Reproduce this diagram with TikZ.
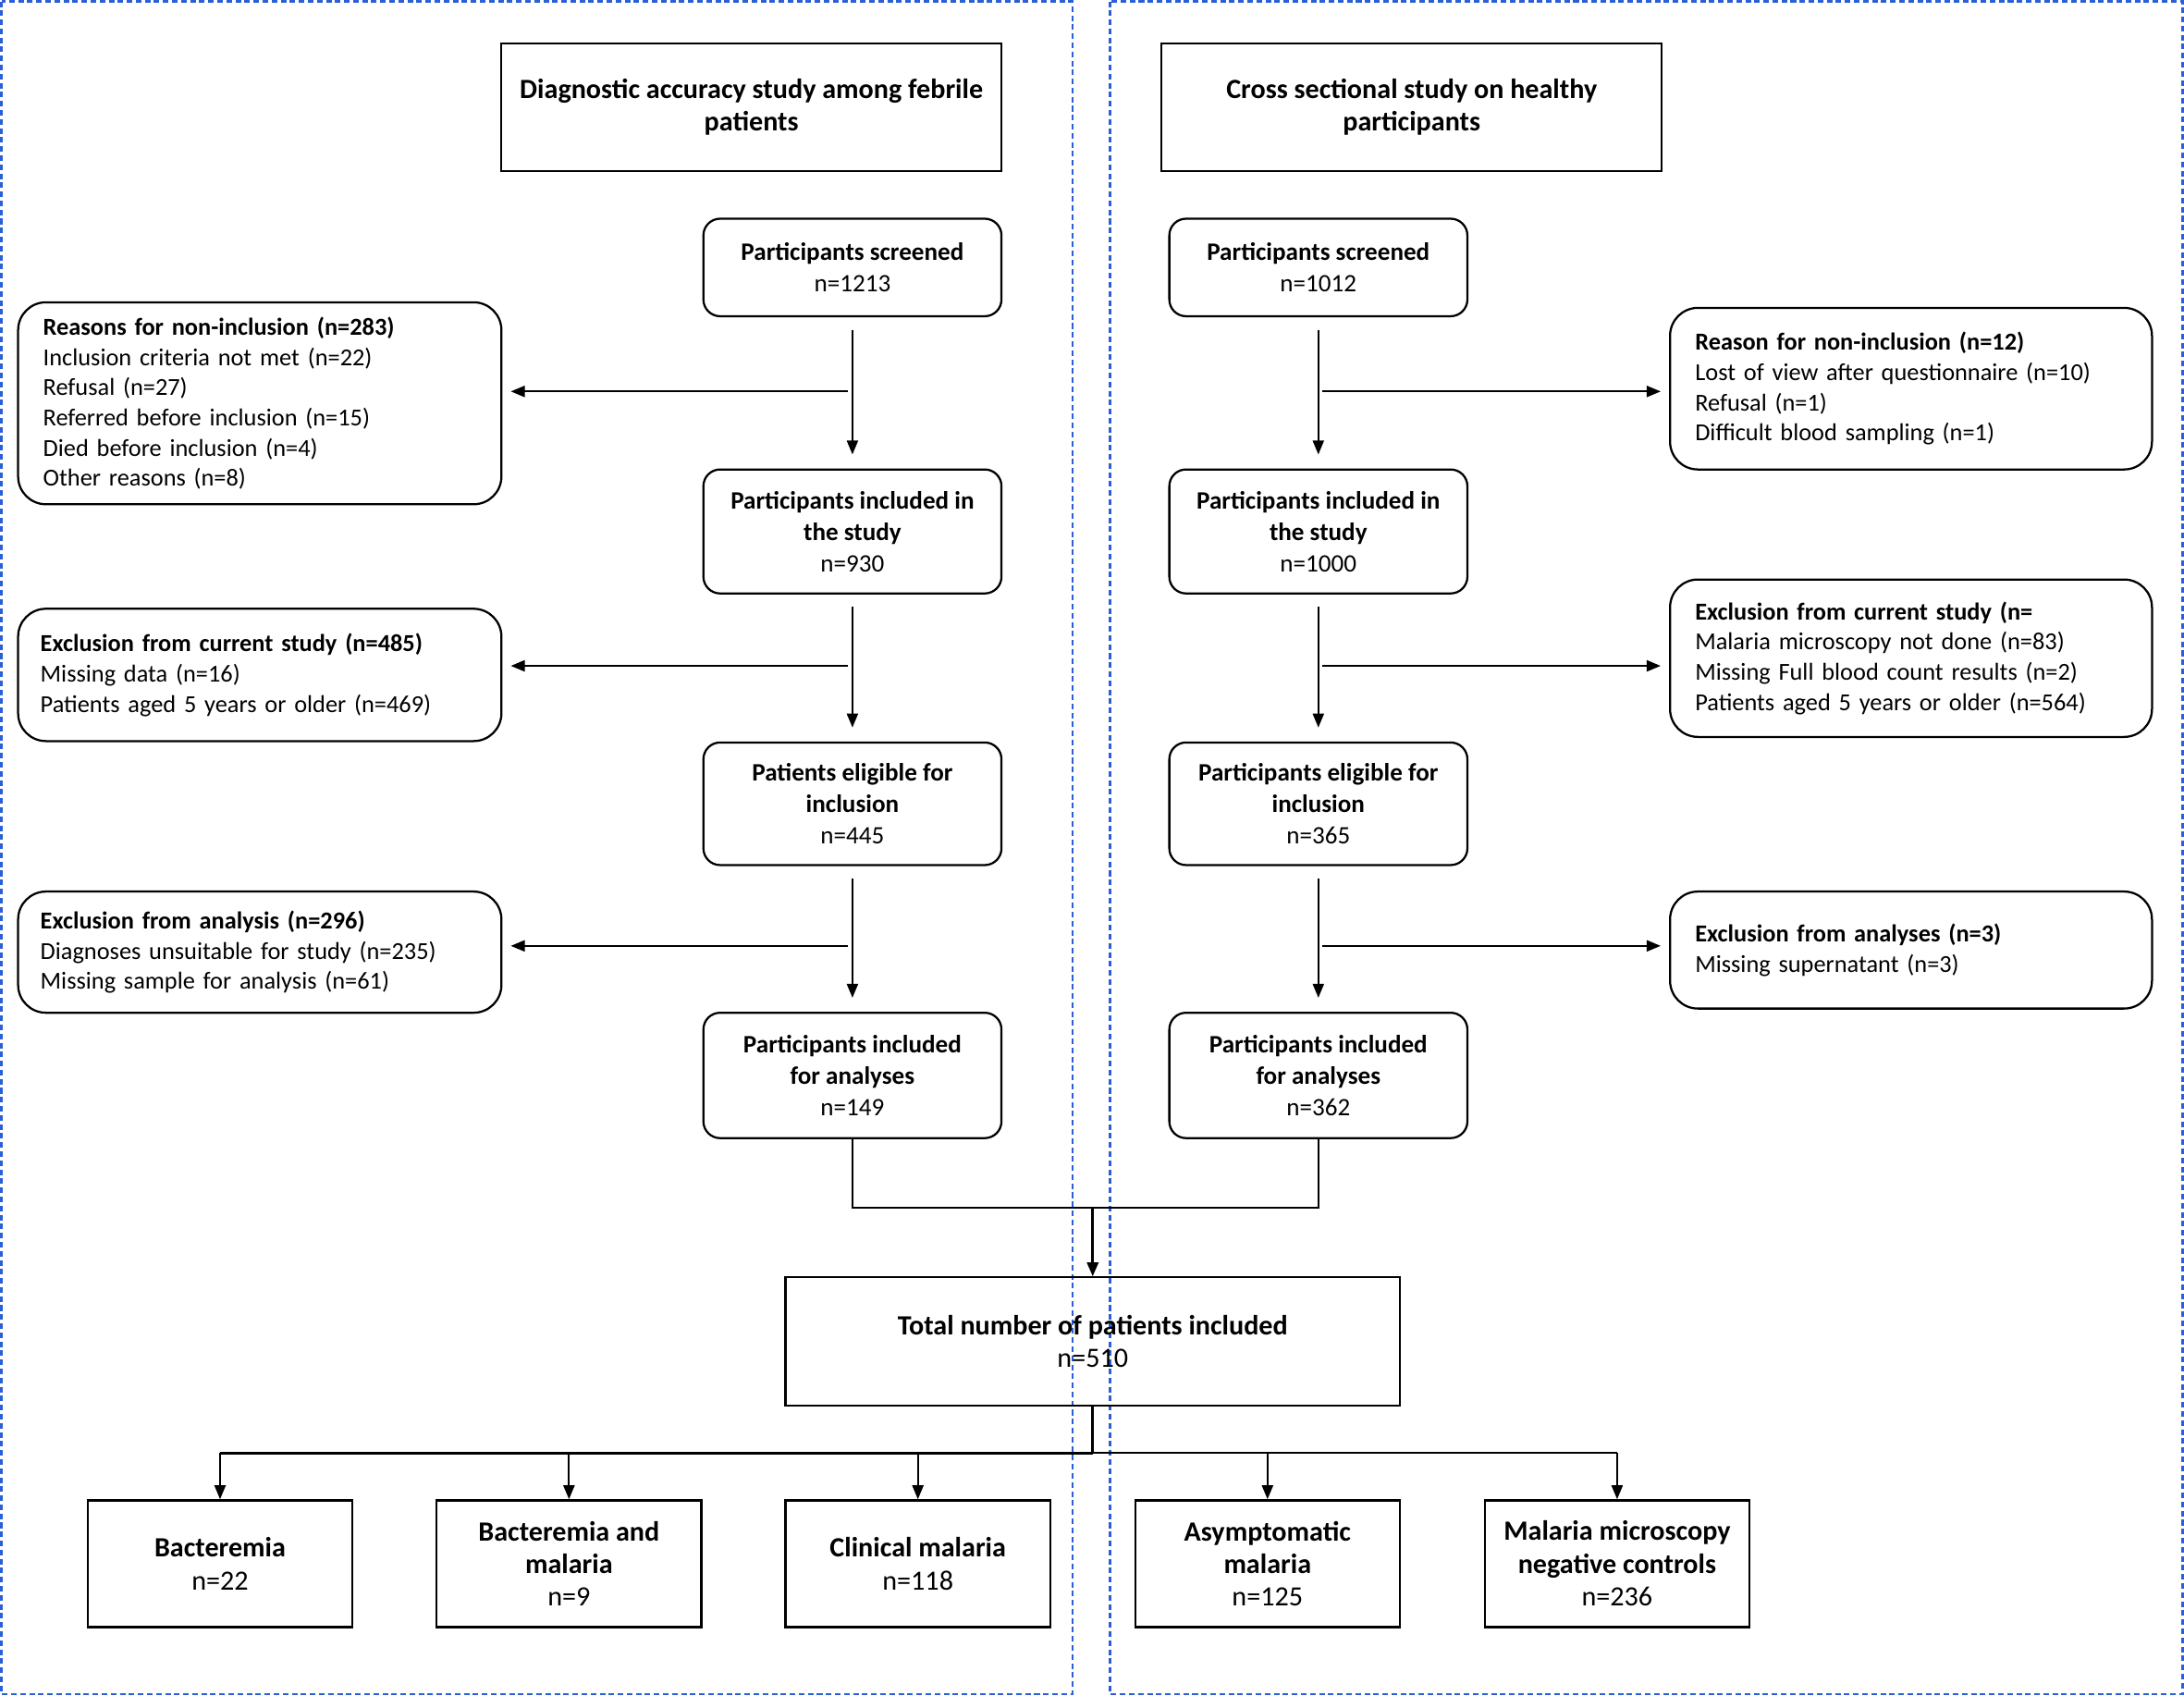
\documentclass[tikz,border=0pt]{standalone}
\usepackage{fontspec}
\setmainfont{Carlito}
\usetikzlibrary{arrows.meta,calc}
\definecolor{panelblue}{HTML}{2A5FD6}
\begin{document}
\begin{tikzpicture}[x=1pt,y=-1pt,
  every node/.style={font=\fontsize{18}{22.5}\selectfont},
  bigtxt/.style={font=\fontsize{20}{23.5}\selectfont},
  sidetxt/.style={font=\fontsize{17.5}{21.7}\selectfont},
  panel/.style={draw=panelblue, line width=1.6pt, dash pattern=on 4pt off 2.5pt},
  sqbox/.style={draw, line width=1.5pt, align=center, inner sep=4pt},
  rbox/.style={draw, line width=1.5pt, rounded corners=12pt, align=center, inner sep=4pt, minimum width=214pt},
  sidebox/.style={draw, line width=1.5pt, rounded corners=20pt, align=left, inner xsep=18pt, inner ysep=4pt, text width=311pt, minimum width=347pt, sidetxt},
  conn/.style={line width=1.3pt},
  arr/.style={conn, -{Triangle[length=10pt,width=8pt]}},
  thick conn/.style={line width=2pt},
]
\useasboundingbox (0,0) rectangle (1568,1217);
% panels
\draw[panel] (1,1) rectangle (770,1216);
\draw[panel] (797,1) rectangle (1567,1216);

% titles
\node[sqbox, bigtxt, minimum width=359pt, minimum height=92pt] (tL) at (539.5,77) {\bfseries Diagnostic accuracy study among febrile\\\bfseries patients};
\node[sqbox, bigtxt, minimum width=359pt, minimum height=92pt] (tR) at (1013.5,77) {\bfseries Cross sectional study on healthy\\\bfseries participants};

% left column
\node[rbox, minimum height=70pt] (sL) at (612,192) {\bfseries Participants screened\\n=1213};
\node[rbox, minimum height=89pt] (iL) at (612,381.5) {\bfseries Participants included in\\\bfseries the study\\n=930};
\node[rbox, minimum height=88pt] (eL) at (612,577) {\bfseries Patients eligible for\\\bfseries inclusion\\n=445};
\node[rbox, minimum height=90pt] (aL) at (612,772) {\bfseries Participants included\\\bfseries for analyses\\n=149};

% right column
\node[rbox, minimum height=70pt] (sR) at (946.5,192) {\bfseries Participants screened\\n=1012};
\node[rbox, minimum height=89pt] (iR) at (946.5,381.5) {\bfseries Participants included in\\\bfseries the study\\n=1000};
\node[rbox, minimum height=88pt] (eR) at (946.5,577) {\bfseries Participants eligible for\\\bfseries inclusion\\n=365};
\node[rbox, minimum height=90pt] (aR) at (946.5,772) {\bfseries Participants included\\\bfseries for analyses\\n=362};

% left side boxes
\node[sidebox, minimum height=145pt] (nL) at (186.5,289.5) {\textbf{Reasons for non-inclusion (n=283)}\\Inclusion criteria not met (n=22)\\Refusal (n=27)\\Referred before inclusion (n=15)\\Died before inclusion (n=4)\\Other reasons (n=8)};
\node[sidebox, minimum height=95pt, inner xsep=16pt, text width=315pt] (cL) at (186.5,484.5) {\textbf{Exclusion from current study (n=485)}\\Missing data (n=16)\\Patients aged 5 years or older (n=469)};
\node[sidebox, minimum height=87pt, inner xsep=16pt, text width=315pt] (xL) at (186.5,683.5) {\textbf{Exclusion from analysis (n=296)}\\Diagnoses unsuitable for study (n=235)\\Missing sample for analysis (n=61)};

% right side boxes
\node[sidebox, minimum height=116pt, minimum width=346pt, text width=310pt] (nR) at (1372,279) {\textbf{Reason for non-inclusion (n=12)}\\Lost of view after questionnaire (n=10)\\Refusal (n=1)\\Difficult blood sampling (n=1)};
\node[sidebox, minimum height=113pt, minimum width=346pt, text width=310pt] (cR) at (1372,472.5) {\textbf{Exclusion from current study (n=}\\Malaria microscopy not done (n=83)\\Missing Full blood count results (n=2)\\Patients aged 5 years or older (n=564)};
\node[sidebox, minimum height=84pt, minimum width=346pt, text width=310pt] (xR) at (1372,682) {\textbf{Exclusion from analyses (n=3)}\\Missing supernatant (n=3)};

% total
\node[sqbox, bigtxt, minimum width=441pt, minimum height=92pt] (tot) at (784.5,963) {\bfseries Total number of patients included\\n=510};

% bottom boxes
\tikzset{botbox/.style={sqbox, bigtxt, minimum width=190pt, minimum height=91pt}}
\node[botbox] (b1) at (158,1122.5) {\bfseries Bacteremia\\n=22};
\node[botbox] (b2) at (408.5,1122.5) {\bfseries Bacteremia and\\\bfseries malaria\\n=9};
\node[botbox] (b3) at (659,1122.5) {\bfseries Clinical malaria\\n=118};
\node[botbox] (b4) at (910,1122.5) {\bfseries Asymptomatic\\\bfseries malaria\\n=125};
\node[botbox] (b5) at (1161,1122.5) {\bfseries Malaria microscopy\\\bfseries negative controls\\n=236};

% vertical arrows
\foreach \a/\b in {sL/iL, iL/eL, eL/aL, sR/iR, iR/eR, eR/aR}
  \draw[arr, shorten <=9pt, shorten >=10pt] (\a.south) -- (\b.north);

% branch coordinates
\coordinate (kL1) at (609,281);
\coordinate (kL2) at (609,478);
\coordinate (kL3) at (609,679);
\coordinate (kR1) at (949,281);
\coordinate (kR2) at (949,478);
\coordinate (kR3) at (949,679);
\draw[arr, shorten >=6pt] (kL1) -- (nL.east |- kL1);
\draw[arr, shorten >=6pt] (kL2) -- (cL.east |- kL2);
\draw[arr, shorten >=6pt] (kL3) -- (xL.east |- kL3);
\draw[arr, shorten >=6pt] (kR1) -- (nR.west |- kR1);
\draw[arr, shorten >=6pt] (kR2) -- (cR.west |- kR2);
\draw[arr, shorten >=6pt] (kR3) -- (xR.west |- kR3);

% merge
\coordinate (mg) at (784.5,867);
\draw[conn] (aL.south) |- (mg) -| (aR.south);
\draw[arr, thick conn] (mg) -- (tot.north);

% split
\coordinate (sp) at (784.5,1043);
\draw[thick conn] (tot.south) -- (sp);
\draw[conn] (b1.north |- sp) -- (b5.north |- sp);
\draw[thick conn] (b1.north |- sp) -- (sp);
\foreach \b in {b1,b2,b3,b4,b5}
  \draw[arr] (\b.north |- sp) -- (\b.north);
\end{tikzpicture}
\end{document}
